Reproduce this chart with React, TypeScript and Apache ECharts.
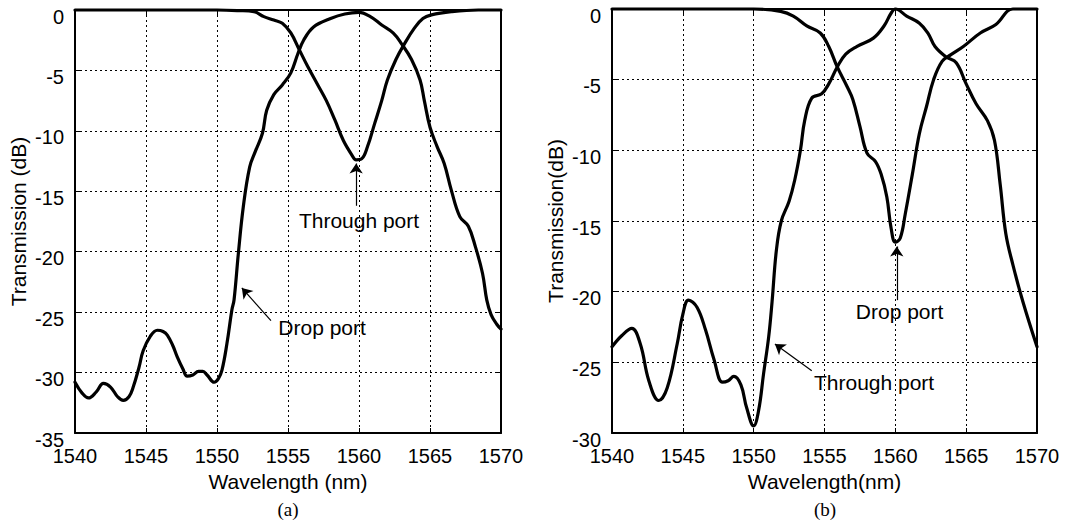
import React, { useEffect, useRef } from 'react';
import * as echarts from 'echarts';

// ---------- data (wavelength nm, transmission dB) ----------
const dropPortA: [number, number][] = [
  [1540, -30.8], [1540.5, -31.7], [1540.95, -32.1], [1541.5, -31.6], [1542.0, -30.9],
  [1542.5, -31.2], [1543.0, -32.0], [1543.4, -32.3], [1543.8, -32.0], [1544.1, -31.2],
  [1544.5, -29.6], [1544.8, -28.2], [1545.3, -27.0], [1545.8, -26.5], [1546.2, -26.6],
  [1546.5, -26.9], [1546.9, -27.8], [1547.2, -28.7], [1547.6, -29.7], [1547.9, -30.3],
  [1548.3, -30.2], [1548.7, -29.9], [1549.0, -29.9], [1549.3, -30.2], [1549.8, -30.8],
  [1550.1, -30.5], [1550.35, -29.8], [1550.7, -27.6], [1551.05, -24.8], [1551.2, -24.0],
  [1551.5, -20.2], [1551.85, -16.3], [1552.3, -13.0], [1552.7, -11.7], [1553.2, -10.2],
  [1553.5, -8.3], [1554.0, -7.0], [1554.6, -6.2], [1555.2, -5.2], [1555.7, -3.6],
  [1556.1, -2.5], [1556.8, -1.4], [1558.0, -0.7], [1559.0, -0.33], [1560.0, -0.2],
  [1560.8, -0.55], [1561.6, -1.24], [1562.4, -1.9], [1563.0, -2.8], [1563.7, -4.1],
  [1564.3, -5.8], [1564.6, -7.5], [1565.0, -9.7], [1565.5, -11.3], [1566.0, -12.7],
  [1566.5, -14.9], [1567.1, -17.1], [1567.7, -17.9], [1568.2, -19.6], [1568.7, -21.8],
  [1569.0, -24.0], [1569.3, -25.2], [1569.7, -26.0], [1570.0, -26.4],
];

const throughPortA: [number, number][] = [
  [1540, 0], [1550, 0], [1551.5, -0.05], [1552.6, -0.14], [1553.3, -0.55], [1554.0, -0.83],
  [1554.6, -1.1], [1555.2, -1.9], [1555.8, -3.3], [1556.4, -4.7], [1557.1, -6.2],
  [1557.7, -7.5], [1558.3, -9.1], [1558.9, -10.8], [1559.5, -12.0], [1559.8, -12.4],
  [1560.2, -12.3], [1560.6, -11.3], [1561.1, -9.4], [1561.6, -7.5], [1562.0, -5.8],
  [1562.6, -4.1], [1563.2, -2.8], [1563.9, -1.5], [1564.5, -0.7], [1565.1, -0.4],
  [1566.5, -0.14], [1568.4, 0], [1570, 0],
];

const throughPortB: [number, number][] = [
  [1540, -23.9], [1540.7, -23.1], [1541.4, -22.6], [1542.0, -23.7], [1542.6, -26.3],
  [1543.3, -27.7], [1543.9, -26.8], [1544.6, -23.7], [1545.0, -21.6], [1545.4, -20.6],
  [1546.0, -21.1], [1546.6, -22.7], [1547.2, -24.8], [1547.8, -26.4], [1548.2, -26.3],
  [1548.6, -26.0], [1549.1, -26.6], [1549.5, -28.2], [1550.0, -29.5], [1550.35, -28.4],
  [1550.7, -25.8], [1551.06, -23.2], [1551.3, -20.7], [1551.6, -17.1], [1551.95, -15.0],
  [1552.5, -13.6], [1552.9, -12.1], [1553.3, -10.0], [1553.6, -7.9], [1554.1, -6.3],
  [1554.8, -6.0], [1555.3, -5.3], [1555.9, -4.1], [1556.5, -3.2], [1557.3, -2.65],
  [1558.45, -2.06], [1559.2, -1.2], [1559.7, -0.3], [1560.0, 0], [1560.8, -0.5],
  [1561.7, -1.0], [1562.3, -1.7], [1562.8, -2.65], [1563.6, -3.4], [1564.3, -3.8],
  [1565.0, -5.3], [1565.7, -6.7], [1566.5, -7.9], [1567.0, -9.3], [1567.4, -12.4],
  [1567.8, -15.9], [1568.3, -18.1], [1569.0, -20.7], [1570.0, -23.9],
];

const dropPortB: [number, number][] = [
  [1540, 0], [1550, 0], [1551.9, -0.17], [1552.8, -0.5], [1553.75, -1.2], [1554.7, -1.7],
  [1555.3, -2.65], [1555.9, -4.1], [1556.6, -5.5], [1557.0, -6.4], [1557.5, -8.3],
  [1558.0, -10.2], [1558.6, -10.8], [1559.0, -11.7], [1559.4, -13.3], [1559.7, -15.5],
  [1560.0, -16.5], [1560.35, -16.2], [1560.7, -14.5], [1561.2, -11.7], [1561.7, -8.8],
  [1562.2, -6.9], [1562.7, -5.0], [1563.3, -3.7], [1563.9, -3.25], [1564.8, -2.65],
  [1566.0, -1.7], [1567.1, -1.1], [1568.3, 0], [1570, 0],
];

// annotation texts (anchored in data coordinates)
const labelsA = [
  { text: 'Through port', at: [1560.0, -17.4] },
  { text: 'Drop port', at: [1557.4, -26.3] },
];
const arrowsA = [
  { from: [1559.8, -16.2], to: [1559.8, -12.7] },
  { from: [1553.8, -25.7], to: [1551.75, -23.0] },
];
const labelsB = [
  { text: 'Drop port', at: [1560.3, -21.4] },
  { text: 'Through port', at: [1558.5, -26.45] },
];
const arrowsB = [
  { from: [1560.1, -20.6], to: [1560.1, -16.8] },
  { from: [1554.1, -25.6], to: [1551.5, -23.7] },
];

const wavelengthRange = [1540, 1570];
const yMinA = -35;
const yMinB = -30;
const tickStep = 5;

const FONT = '"Liberation Sans", Arial, Helvetica, sans-serif';
const SERIF = '"Liberation Serif", "Times New Roman", serif';

function mainX(gridIndex: number, name: string) {
  return {
    type: 'value', gridIndex, position: 'bottom',
    min: wavelengthRange[0], max: wavelengthRange[1], interval: tickStep,
    name, nameLocation: 'middle', nameGap: 35,
    nameTextStyle: { color: '#000', fontSize: 21, fontFamily: FONT },
    axisLine: { show: true, onZero: false, lineStyle: { color: '#000', width: 2 } },
    axisTick: { show: true, inside: true, length: 5, lineStyle: { color: '#000', width: 1 } },
    axisLabel: { color: '#000', fontSize: 20, fontFamily: FONT, margin: 13, formatter: (v: number) => String(v) },
    splitLine: { show: true, lineStyle: { color: '#000', width: 1, type: [2, 3] } },
  };
}
function frameX(gridIndex: number) {
  return {
    type: 'value', gridIndex, position: 'top',
    min: wavelengthRange[0], max: wavelengthRange[1], interval: tickStep,
    axisLine: { show: true, onZero: false, lineStyle: { color: '#000', width: 2 } },
    axisTick: { show: true, inside: true, length: 5, lineStyle: { color: '#000', width: 1 } },
    axisLabel: { show: false }, splitLine: { show: false },
  };
}
function mainY(gridIndex: number, min: number, name: string) {
  return {
    type: 'value', gridIndex, position: 'left',
    min, max: 0, interval: tickStep,
    name, nameLocation: 'middle', nameGap: 46, nameRotate: 90,
    nameTextStyle: { color: '#000', fontSize: 21, fontFamily: FONT },
    axisLine: { show: true, onZero: false, lineStyle: { color: '#000', width: 2 } },
    axisTick: { show: true, inside: true, length: 5, lineStyle: { color: '#000', width: 1 } },
    axisLabel: {
      color: '#000', fontSize: 20, fontFamily: FONT, margin: 11,
      verticalAlign: 'top', lineHeight: 13, formatter: (v: number) => String(v),
    },
    splitLine: { show: true, lineStyle: { color: '#000', width: 1, type: [2, 3] } },
  };
}
function frameY(gridIndex: number, min: number) {
  return {
    type: 'value', gridIndex, position: 'right',
    min, max: 0, interval: tickStep,
    axisLine: { show: true, onZero: false, lineStyle: { color: '#000', width: 2 } },
    axisTick: { show: true, inside: true, length: 5, lineStyle: { color: '#000', width: 1 } },
    axisLabel: { show: false }, splitLine: { show: false },
  };
}

function curve(name: string, data: [number, number][], xi: number, yi: number) {
  return {
    type: 'line', name, data, xAxisIndex: xi, yAxisIndex: yi,
    symbol: 'none', showSymbol: false, smooth: 0.4, clip: false,
    lineStyle: { color: '#000', width: 3.2, join: 'round', cap: 'round' }, silent: true,
  };
}

function notes(labels: { text: string; at: number[] }[], arrows: { from: number[]; to: number[] }[], xi: number, yi: number) {
  return {
    type: 'scatter', xAxisIndex: xi, yAxisIndex: yi, silent: true,
    symbolSize: 0, itemStyle: { color: '#000', opacity: 0 },
    data: labels.map((l) => ({ value: l.at, label: { formatter: l.text } })),
    label: {
      show: true, position: 'inside', color: '#000', opacity: 1,
      textBorderWidth: 0, fontSize: 21, fontFamily: FONT,
    },
    markLine: {
      silent: true, symbol: ['none', 'arrow'], symbolSize: 10, precision: 3,
      label: { show: false },
      itemStyle: { color: '#000', opacity: 1 },
      lineStyle: { color: '#000', width: 1.2, type: 'solid', opacity: 1 },
      data: arrows.map((a) => [{ coord: a.from }, { coord: a.to }]),
    },
  };
}

export default function App() {
  const ref = useRef<HTMLDivElement>(null);
  useEffect(() => {
    if (!ref.current) return;
    const chart = echarts.init(ref.current, undefined, { renderer: 'svg' });
    chart.setOption({
      animation: false,
      backgroundColor: '#fff',
      grid: [
        { left: 75, top: 10, width: 426, height: 423 },
        { left: 612, top: 9, width: 425, height: 424 },
      ],
      xAxis: [mainX(0, 'Wavelength (nm)'), frameX(0), mainX(1, 'Wavelength(nm)'), frameX(1)],
      yAxis: [mainY(0, yMinA, 'Transmission (dB)'), frameY(0, yMinA), mainY(1, yMinB, 'Transmission(dB)'), frameY(1, yMinB)],
      series: [
        curve('Drop port (a)', dropPortA, 0, 0),
        curve('Through port (a)', throughPortA, 0, 0),
        notes(labelsA, arrowsA, 0, 0),
        curve('Through port (b)', throughPortB, 2, 2),
        curve('Drop port (b)', dropPortB, 2, 2),
        notes(labelsB, arrowsB, 2, 2),
      ],
      graphic: [
        { type: 'text', x: 288, y: 509, style: { text: '(a)', fontSize: 19, fontFamily: SERIF, fill: '#000', align: 'center', verticalAlign: 'middle' } },
        { type: 'text', x: 825, y: 509, style: { text: '(b)', fontSize: 19, fontFamily: SERIF, fill: '#000', align: 'center', verticalAlign: 'middle' } },
      ],
    });
    return () => chart.dispose();
  }, []);
  return (
    <div
      ref={ref}
      style={{ position: 'absolute', left: 0, top: 0, width: 1067, height: 529, background: '#fff' }}
    />
  );
}
